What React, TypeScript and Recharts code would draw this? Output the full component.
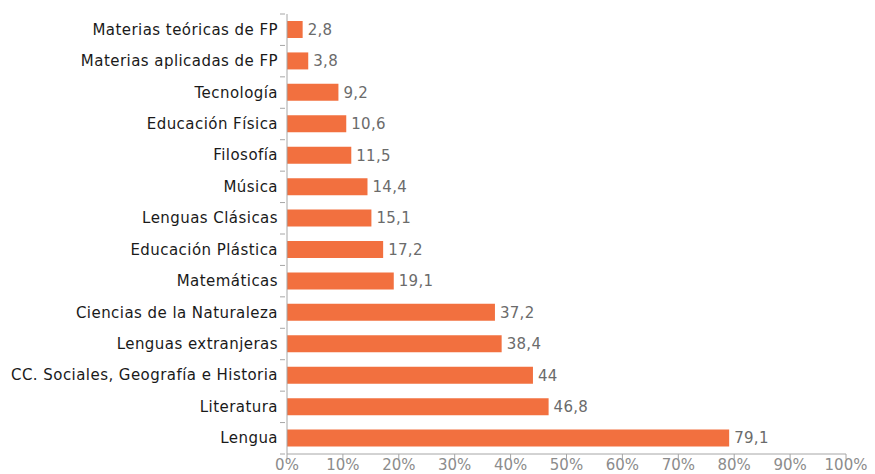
import React from 'react';
import { BarChart, Bar, XAxis, YAxis, LabelList } from 'recharts';

// Top to bottom as shown in the chart
const categories = [
  'Materias teóricas de FP',
  'Materias aplicadas de FP',
  'Tecnología',
  'Educación Física',
  'Filosofía',
  'Música ',
  'Lenguas Clásicas',
  'Educación Plástica',
  'Matemáticas',
  'Ciencias de la Naturaleza',
  'Lenguas extranjeras',
  'CC. Sociales, Geografía e Historia',
  'Literatura',
  'Lengua',
];
const values = [2.8, 3.8, 9.2, 10.6, 11.5, 14.4, 15.1, 17.2, 19.1, 37.2, 38.4, 44, 46.8, 79.1];
const xTicks = [0, 10, 20, 30, 40, 50, 60, 70, 80, 90, 100];

const FONT = '"DejaVu Sans", Verdana, sans-serif';
const BAR_COLOR = '#F2703F';
const AXIS_COLOR = '#a6a6a6';

const WIDTH = 875;
const HEIGHT = 474;
const MARGIN = { top: 14, right: 29, left: 0, bottom: 0 };
const Y_AXIS_W = 287;
const X_AXIS_H = 20;
const BAND = (HEIGHT - MARGIN.top - MARGIN.bottom - X_AXIS_H) / categories.length;

const chartData = categories.map((name, i) => ({ name, value: values[i] }));

const fmt = (v: number) => String(v).replace('.', ',');

// category label centred on the band, tick marks on the band boundaries
const CategoryTick = (props: any) => {
  const { x, y, payload, index } = props;
  const ax = x + 6;
  return (
    <g>
      <line x1={ax - 5} x2={ax} y1={y - BAND / 2} y2={y - BAND / 2} stroke={AXIS_COLOR} />
      {index === categories.length - 1 && (
        <line x1={ax - 5} x2={ax} y1={y + BAND / 2} y2={y + BAND / 2} stroke={AXIS_COLOR} />
      )}
      <text
        x={x - 1}
        y={y}
        dy={5}
        textAnchor="end"
        fill="#1a1a1a"
        fontSize={15}
        fontFamily={FONT}
        letterSpacing={0.45}
      >
        {payload.value}
      </text>
    </g>
  );
};

const App: React.FC = () => {
  return (
    <div style={{ position: 'absolute', left: 0, top: 0, background: '#fff' }}>
      <BarChart
        width={WIDTH}
        height={HEIGHT}
        data={chartData}
        layout="vertical"
        margin={MARGIN}
        barSize={17}
      >
        <XAxis
          type="number"
          domain={[0, 100]}
          ticks={xTicks}
          interval={0}
          height={X_AXIS_H}
          tickFormatter={(v) => `${v}%`}
          stroke={AXIS_COLOR}
          tickSize={5}
          tickMargin={0}
          tick={{ fill: '#8c8c8c', fontSize: 15, fontFamily: FONT }}
        />
        <YAxis
          type="category"
          dataKey="name"
          width={Y_AXIS_W}
          interval={0}
          stroke={AXIS_COLOR}
          tickLine={false}
          tick={<CategoryTick />}
        />
        <Bar dataKey="value" fill={BAR_COLOR} isAnimationActive={false}>
          <LabelList
            dataKey="value"
            position="right"
            offset={5}
            formatter={(v: any) => fmt(v)}
            style={{ fill: '#6b6b6b', fontSize: 15, fontFamily: FONT, letterSpacing: 0.3 }}
          />
        </Bar>
      </BarChart>
    </div>
  );
};

export default App;
